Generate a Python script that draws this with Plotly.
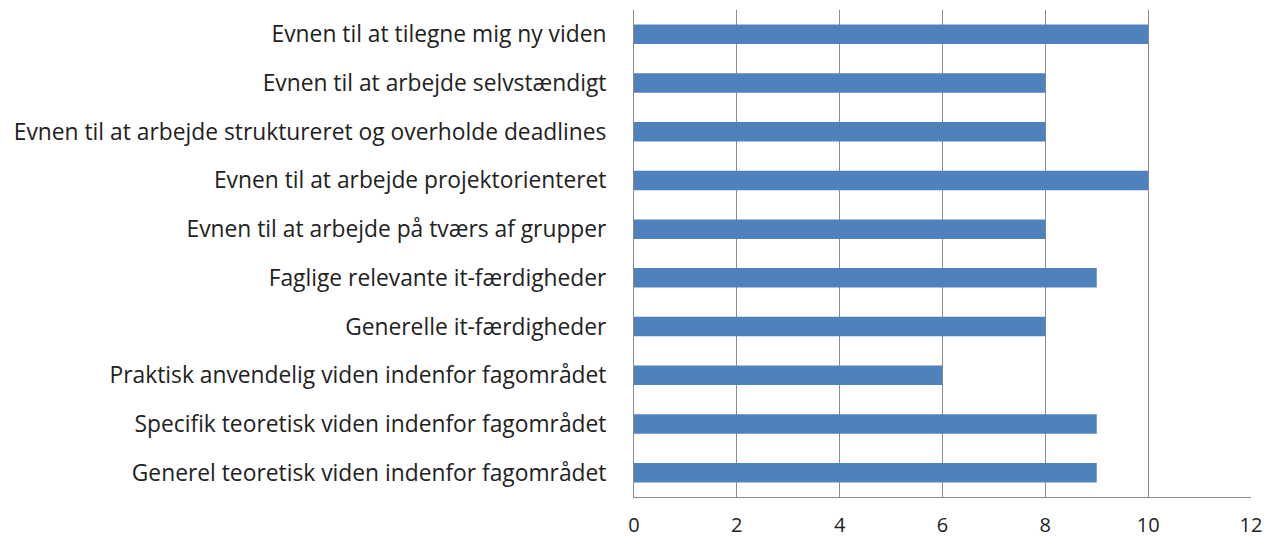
import plotly.graph_objects as go

categories = [
    "Evnen til at tilegne mig ny viden",
    "Evnen til at arbejde selvstændigt",
    "Evnen til at arbejde struktureret og overholde deadlines",
    "Evnen til at arbejde projektorienteret",
    "Evnen til at arbejde på tværs af grupper",
    "Faglige relevante it-færdigheder",
    "Generelle it-færdigheder",
    "Praktisk anvendelig viden indenfor fagområdet",
    "Specifik teoretisk viden indenfor fagområdet",
    "Generel teoretisk viden indenfor fagområdet",
]
values = [10, 8, 8, 10, 8, 9, 8, 6, 9, 9]
x_ticks = [0, 2, 4, 6, 8, 10, 12]

fig = go.Figure(go.Bar(
    x=values, y=categories, orientation="h",
    marker=dict(color="#4F81BD", line=dict(width=0)),
    width=0.4,
))

font = "Open Sans, Noto Sans, sans-serif"
fig.update_layout(
    width=1268, height=538,
    margin=dict(l=634, r=17, t=10, b=41),
    paper_bgcolor="white", plot_bgcolor="white",
    showlegend=False,
    font=dict(family=font, size=22, color="#222222"),
)
fig.update_xaxes(
    range=[0, 12], tickvals=x_ticks, ticktext=[str(v) for v in x_ticks],
    showgrid=True, gridcolor="#8C8C8C", gridwidth=1,
    showline=True, linecolor="#8C8C8C", linewidth=1,
    zeroline=False, ticks="", ticklabelstandoff=10,
    tickfont=dict(size=20), automargin=False,
)
fig.update_yaxes(
    autorange="reversed",
    showline=True, linecolor="#8C8C8C", linewidth=1,
    showgrid=False, ticks="", ticklabelstandoff=22,
    tickfont=dict(size=22.8), automargin=False,
)
fig.write_html(
    "out.html",
    config={"displayModeBar": False},
    post_script="document.body.style.margin='0';document.body.style.overflow='hidden';",
)
